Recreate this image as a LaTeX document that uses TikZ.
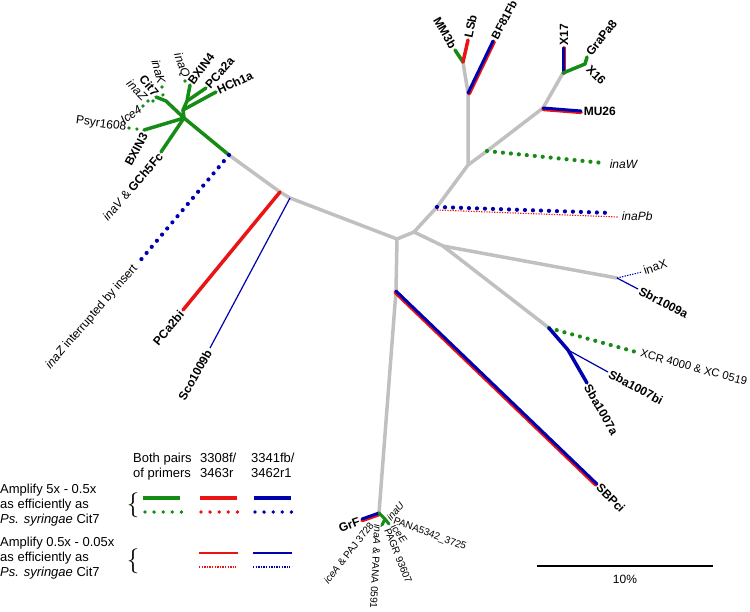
\documentclass[tikz,border=0pt]{standalone}
\usepackage{fontspec}
\setmainfont{Liberation Sans}
\definecolor{gry}{RGB}{192,192,192}
\definecolor{grn}{RGB}{22,140,22}
\definecolor{rd}{RGB}{235,20,20}
\definecolor{bl}{RGB}{0,0,175}
\tikzset{
  gl/.style={draw=gry, line width=3.5pt, line cap=round, line join=round},
  gn/.style={draw=grn, line width=3.5pt, line cap=round, line join=round},
  bt/.style={draw=bl, line width=3pt, line cap=round},
  rt/.style={draw=rd, line width=3.5pt, line cap=round},
  bthin/.style={draw=bl, line width=1.2pt},
  rthin/.style={draw=rd, line width=1.2pt},
  gdot/.style={draw=grn, line width=4.2pt, line cap=round, dash pattern=on 0pt off 8pt},
  bdot/.style={draw=bl, line width=4.2pt, line cap=round, dash pattern=on 0pt off 8pt},
  rdot/.style={draw=rd, line width=4.2pt, line cap=round, dash pattern=on 0pt off 8pt},
  bfine/.style={draw=bl, line width=1.1pt, dash pattern=on 1.3pt off 1.3pt},
  rfine/.style={draw=rd, line width=1.1pt, dash pattern=on 1.3pt off 1.3pt},
  lb/.style={font=\fontsize{12}{14}\selectfont, inner sep=0.6pt},
  lbi/.style={font=\fontsize{12}{14}\selectfont\itshape, inner sep=0.6pt},
  lbb/.style={font=\fontsize{12}{14}\selectfont\bfseries, inner sep=0.6pt},
  ls/.style={font=\fontsize{10}{12}\selectfont, inner sep=0.6pt},
  lsi/.style={font=\fontsize{10}{12}\selectfont\itshape, inner sep=0.6pt},
  lg/.style={font=\fontsize{13}{15.2}\selectfont, inner sep=0pt, align=left},
}
\begin{document}
\begin{tikzpicture}[x=1pt,y=-1pt]
\useasboundingbox (0,0) rectangle (750,611);
% ---------- internal nodes ----------
\coordinate (D) at (229,155);
\coordinate (C2) at (280,192);
\coordinate (C) at (290,198);
\coordinate (A) at (397,239);
\coordinate (B) at (414,232);
\coordinate (J) at (437,207);
\coordinate (K) at (468,165);
\coordinate (L1) at (468,93);
\coordinate (L) at (463,62);
\coordinate (P) at (487,151);
\coordinate (M) at (543,108);
\coordinate (N) at (563,73);
\coordinate (Q) at (443,246);
\coordinate (R) at (617,278);
\coordinate (S) at (549,328);
\coordinate (T) at (568,350);
\coordinate (U) at (396,291);
\coordinate (V) at (379,513);
% ---------- gray backbone ----------
\draw[gl] (D) -- (C2) -- (C) -- (A) -- (B) -- (J) -- (K) -- (L1) -- (L);
\draw[gl] (K) -- (P) -- (M) -- (N);
\draw[gl] (B) -- (Q) -- (R);
\draw[gl] (Q) -- (S);
\draw[gl] (A) -- (U) -- (V);
% ---------- green cluster (upper left) ----------
\coordinate (E) at (184,118);
\coordinate (F) at (183,110);
\coordinate (G) at (187,101);
\coordinate (b3) at (144,130);
\coordinate (g5) at (161,152);
\coordinate (c7m) at (166,101);
\coordinate (c7) at (156,97);
\coordinate (bx4) at (190,85);
\coordinate (pc2a) at (206,88);
\coordinate (hch) at (216,92);
\draw[gn] (D) -- (E) -- (b3);
\draw[gn] (E) -- (g5);
\draw[gn] (E) -- (F) -- (G) -- (bx4);
\draw[gn] (G) -- (pc2a);
\draw[gn] (F) -- (hch);
\draw[gn] (E) -- (c7m) -- (c7);
\coordinate (qa) at (185,81); \coordinate (qb) at (186,88);
\draw[gdot, line width=3.6pt] (qa) -- (qb);
\coordinate (ka) at (162,87); \coordinate (kb) at (163,95.1);
\draw[gdot, line width=3.6pt] (ka) -- (kb);
\coordinate (za) at (148,101); \coordinate (zb) at (153.3,101);
\draw[gdot, line width=3.6pt, dash pattern=on 0pt off 5pt] (za) -- (zb);
\coordinate (ia) at (143,106); \coordinate (ib) at (145,108);
\draw[gdot, line width=3.6pt] (ia) -- (ib);
\coordinate (pa) at (129,128); \coordinate (pb) at (137,129.1);
\draw[gdot, line width=3.6pt] (pa) -- (pb);
\node[lbi, rotate=-70, anchor=east] (linaQ) at (186,78) {inaQ};
\node[lbi, rotate=-75, anchor=east] (linaK) at (162,84) {inaK};
\node[lbi, rotate=-45, anchor=east] (linaZg) at (146,99) {inaZ};
\node[lbb, rotate=-50, anchor=east] (lCit7) at (157,95) {Cit7};
\node[lbi, rotate=35, anchor=east] (lIce4) at (141,108) {Ice4};
\node[lb, rotate=-8, anchor=east] (lPsyr) at (127,128) {Psyr1608};
\node[lbb, rotate=62, anchor=east] (lBXIN3) at (145,133) {BXIN3};
\node[lbb, rotate=49, anchor=east] (lGCh) at (161,154) {\mdseries\itshape inaV\upshape{} \& \bfseries GCh5Fc};
\node[lbb, rotate=53, anchor=west] (lBXIN4) at (190,84) {BXIN4};
\node[lbb, rotate=48, anchor=west] (lPCa2a) at (207,87) {PCa2a};
\node[lbb, rotate=25, anchor=west] (lHCh1a) at (217,91) {HCh1a};
% ---------- left long branches ----------
\coordinate (iz) at (139,262);
\draw[bdot] (D) -- (iz);
\node[lb, rotate=49, anchor=east] (linaZ) at (136,266) {\textit{inaZ} interrupted by insert};
\coordinate (pc2bi) at (183,310);
\draw[rt] (C2) -- (pc2bi);
\node[lbb, rotate=50, anchor=east] (lPCa2bi) at (182,312) {PCa2bi};
\coordinate (sc) at (210,348);
\draw[bthin] (C) -- (sc);
\node[lbb, rotate=61, anchor=east] (lSco) at (209,350) {Sco1009b};
% ---------- upper right ----------
\coordinate (mm) at (455,50);
\coordinate (lsb) at (468,40);
\coordinate (bf) at (493,41);
\draw[gn] (L) -- (mm);
\draw[rt] (L) -- (lsb);
\draw[rt, transform canvas={shift={(1.2pt,-0.8pt)}}] (L1) -- (bf);
\draw[bt] (L1) -- (bf);
\node[lbb, rotate=-60, anchor=east] (lMM3b) at (454,48) {MM3b};
\node[lbb, rotate=78, anchor=west] (lLSb) at (468,38) {LSb};
\node[lbb, font=\fontsize{11.4}{13}\selectfont\bfseries, rotate=62, anchor=west] (lBF) at (494,39) {BF81Fb};
\coordinate (x17) at (563,48);
\coordinate (x16) at (585,64);
\coordinate (gp) at (587,57);
\draw[rt, transform canvas={shift={(1.2pt,0pt)}}] (N) -- (x17);
\draw[bt] (N) -- (x17);
\draw[gn] (N) -- (x16) -- (gp);
\node[lbb, rotate=90, anchor=west] (lX17) at (564,46) {X17};
\node[lbb, rotate=-45, anchor=west] (lX16) at (588,67) {X16};
\node[lbb, rotate=52, anchor=west] (lGraPa8) at (588,55) {GraPa8};
\coordinate (mu) at (581,111);
\draw[rt, transform canvas={shift={(0pt,-1.4pt)}}] (M) -- (mu);
\draw[bt] (M) -- (mu);
\node[lbb, anchor=west] (lMU26) at (583,111) {MU26};
\coordinate (iw) at (603,163);
\draw[gdot] (P) -- (iw);
\node[lbi, anchor=west] (linaW) at (609,164) {inaW};
\coordinate (J2) at (437,210);
\coordinate (ipb) at (618,217);
\coordinate (ipbb) at (612,213);
\draw[rfine] (J2) -- (ipb);
\draw[bdot] (J) -- (ipbb);
\node[lbi, anchor=west] (linaPb) at (621,216) {inaPb};
% ---------- lower right ----------
\coordinate (ix) at (642,272);
\coordinate (sbr) at (638,289);
\draw[bfine] (R) -- (ix);
\draw[bthin] (R) -- (sbr);
\node[lb, rotate=18, anchor=west] (linaX) at (643,271) {inaX};
\node[lbb, rotate=-27, anchor=west] (lSbr) at (639,290) {Sbr1009a};
\coordinate (s7a) at (587,383);
\coordinate (s7bi) at (608,372);
\coordinate (xc) at (636,352);
\draw[gdot] (S) -- (xc);
\draw[bthin] (T) -- (s7bi);
\draw[draw=bl, line width=3.5pt, line cap=round, line join=round] (S) -- (T) -- (s7a);
\node[lb, font=\fontsize{11.3}{13}\selectfont, rotate=-15, anchor=west] (lXCR) at (640,353) {XCR 4000 \& XC 0519};
\node[lbb, rotate=-28, anchor=west] (lSba7bi) at (609,373) {Sba1007bi};
\node[lbb, rotate=-60, anchor=west] (lSba7a) at (587,385) {Sba1007a};
\coordinate (sbp) at (597,484);
\draw[rt, transform canvas={shift={(-1pt,-1.2pt)}}] (U) -- (sbp);
\draw[bt] (U) -- (sbp);
\node[lbb, rotate=-45, anchor=west] (lSBPci) at (598,485) {SBPci};
% ---------- bottom cluster ----------
\coordinate (grf) at (362,519);
\draw[rt, transform canvas={shift={(0pt,-1.6pt)}}] (V) -- (grf);
\draw[bt] (V) -- (grf);
\coordinate (g1) at (385,519);
\coordinate (g2) at (389,524);
\coordinate (g3) at (382,525);
\draw[gn, line width=3pt] (V) -- (g1) -- (g2);
\draw[gn, line width=3pt] (g1) -- (g3);
\node[lbb, rotate=20, anchor=east] (lGrF) at (360,521) {GrF};
\node[lsi, rotate=50, anchor=west] (linaU) at (388,520) {inaU};
\node[ls, rotate=-20, anchor=west] (lPANA) at (393,521) {PANA5342\_3725};
\node[lsi, rotate=-54, anchor=west] (liceE) at (393,525) {iceE};
\node[ls, rotate=-68, anchor=west] (lPAGR) at (387,528) {PAGR 93607};
\node[ls, rotate=-93, anchor=west] (linaA) at (378,524) {\textit{inaA} \& PANA 0591};
\node[ls, rotate=52, anchor=east] (liceA) at (372,523) {\textit{iceA} \& PAJ 3728};
% ---------- legend ----------
\node[lg, anchor=north west] (h1) at (133,453) {Both pairs\\of primers};
\node[lg, anchor=north west] (h2) at (200,453) {3308f/\\3463r};
\node[lg, anchor=north west] (h3) at (251,453) {3341fb/\\3462r1};
\node[lg, anchor=west] (t1) at (0,505) {Amplify 5x - 0.5x\\as efficiently as\\\textit{Ps. syringae} Cit7};
\node[lg, anchor=west] (t2) at (0,558) {Amplify 0.5x - 0.05x\\as efficiently as\\\textit{Ps. syringae} Cit7};
\node[font=\fontsize{24}{24}\selectfont, inner sep=0pt] (br1) at (133,505) {$\{$};
\node[font=\fontsize{24}{24}\selectfont, inner sep=0pt] (br2) at (133,561) {$\{$};
\coordinate (a1) at (143,498); \coordinate (a2) at (180,498);
\coordinate (a3) at (200,498); \coordinate (a4) at (237,498);
\coordinate (a5) at (254,498); \coordinate (a6) at (291,498);
\draw[gn, line cap=butt] (a1) -- (a2);
\draw[rt, line cap=butt] (a3) -- (a4);
\draw[draw=bl, line width=3.5pt] (a5) -- (a6);
\coordinate (d1) at (145,512); \coordinate (d2) at (182,512);
\coordinate (d3) at (201,512); \coordinate (d4) at (238,512);
\coordinate (d5) at (255,512); \coordinate (d6) at (292,512);
\draw[gdot, line width=3.8pt, dash pattern=on 0pt off 9.1pt] (d1) -- (d2);
\draw[rdot, line width=3.8pt, dash pattern=on 0pt off 9.1pt] (d3) -- (d4);
\draw[bdot, line width=3.8pt, dash pattern=on 0pt off 9.1pt] (d5) -- (d6);
\coordinate (e3) at (199,553); \coordinate (e4) at (238,553);
\coordinate (e5) at (253,553); \coordinate (e6) at (292,553);
\draw[rthin] (e3) -- (e4);
\draw[bthin] (e5) -- (e6);
\coordinate (f3) at (199,567); \coordinate (f4) at (236,567);
\coordinate (f5) at (253,567); \coordinate (f6) at (290,567);
\draw[rfine] (f3) -- (f4);
\draw[bfine] (f5) -- (f6);
% ---------- scale bar ----------
\coordinate (s1) at (537,566);
\coordinate (s2) at (713,566);
\draw[line width=1.5pt] (s1) -- (s2);
\node[lb] (l10) at (625,579) {10\%};
\end{tikzpicture}
\end{document}
